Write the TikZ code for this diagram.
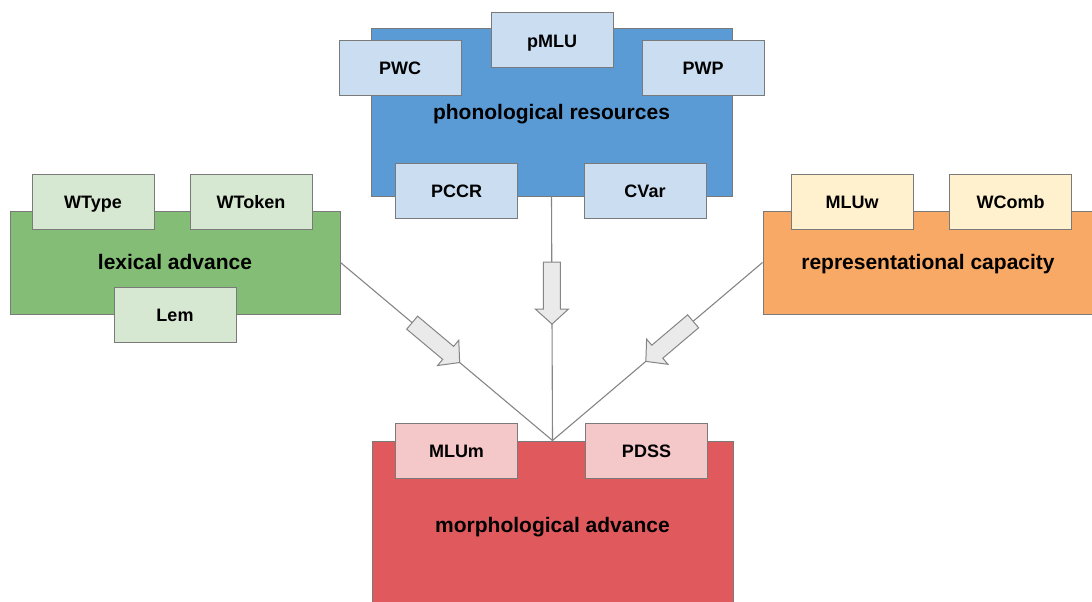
\documentclass[tikz,border=0pt]{standalone}
\usepackage{fontspec}
\setmainfont{Liberation Sans}
\definecolor{edgegray}{HTML}{7A7A7A}
\definecolor{linegray}{HTML}{858585}
\definecolor{phonblue}{HTML}{5B9BD5}
\definecolor{phonlight}{HTML}{CADDF1}
\definecolor{lexgreen}{HTML}{84BD76}
\definecolor{lexlight}{HTML}{D6E8D1}
\definecolor{reporange}{HTML}{F9A966}
\definecolor{replight}{HTML}{FFF1CD}
\definecolor{morphred}{HTML}{E0595C}
\definecolor{morphlight}{HTML}{F4C7C8}
\definecolor{arrowfill}{HTML}{EAEAEA}
\tikzset{
  mainbox/.style={draw=edgegray, line width=1pt, inner sep=0pt,
    text height=19pt, text depth=5pt,
    font=\fontsize{21}{24}\selectfont\bfseries},
  tagbox/.style={draw=edgegray, line width=1pt, inner sep=0pt,
    minimum width=122pt, minimum height=55pt,
    text height=13.5pt, text depth=0pt,
    font=\fontsize{18}{21}\selectfont\bfseries},
  link/.style={draw=linegray, line width=1.1pt},
  blockarrow/.pic={
    \draw[draw=linegray, fill=arrowfill, line width=1pt, line join=miter]
      (-31,-8.5) -- (16,-8.5) -- (16,-16.5) -- (31,0) -- (16,16.5)
      -- (16,8.5) -- (-31,8.5) -- cycle;
  }
}
\begin{document}
\begin{tikzpicture}[x=1pt, y=-1pt]
\useasboundingbox (0,0) rectangle (1092,602);
\clip (0,0) rectangle (1092,602);

% main boxes
\node[mainbox, fill=phonblue, minimum width=361pt, minimum height=167pt]
  (phon) at (551.5,112.5) {phonological resources};
\node[mainbox, fill=lexgreen, minimum width=330pt, minimum height=103pt]
  (lex) at (175,262.5) {lexical advance};
\node[mainbox, fill=reporange, minimum width=330pt, minimum height=103pt]
  (rep) at (928,262.5) {representational capacity};
\node[mainbox, fill=morphred, minimum width=361pt, minimum height=169pt]
  (morph) at (552.5,525.5) {morphological advance};

% measures attached to each box
\node[tagbox, fill=phonlight] (pmlu) at (552,40.5) {pMLU};
\node[tagbox, fill=phonlight] (pwc) at (400,68) {PWC};
\node[tagbox, fill=phonlight] (pwp) at (703,68) {PWP};
\node[tagbox, fill=phonlight] (pccr) at (456.5,190.5) {PCCR};
\node[tagbox, fill=phonlight] (cvar) at (645,190.5) {CVar};

\node[tagbox, fill=lexlight] (wtype) at (93,201.5) {WType};
\node[tagbox, fill=lexlight] (wtoken) at (251,201.5) {WToken};
\node[tagbox, fill=lexlight] (lem) at (175,314.5) {Lem};

\node[tagbox, fill=replight] (mluw) at (852,201.5) {MLUw};
\node[tagbox, fill=replight] (wcomb) at (1010.5,201.5) {WComb};

\node[tagbox, fill=morphlight] (mlum) at (456.5,450.5) {MLUm};
\node[tagbox, fill=morphlight] (pdss) at (646.5,450.5) {PDSS};

% connectors with block arrows
\path[link] (lex.east) -- (morph.north)
  pic[pos=0.45, sloped, allow upside down] {blockarrow};
\path[link] (phon.south) -- (morph.north)
  pic[pos=0.396, sloped, allow upside down] {blockarrow};
\path[link] (rep.west) -- (morph.north)
  pic[pos=0.443, sloped, allow upside down] {blockarrow};
\end{tikzpicture}
\end{document}
